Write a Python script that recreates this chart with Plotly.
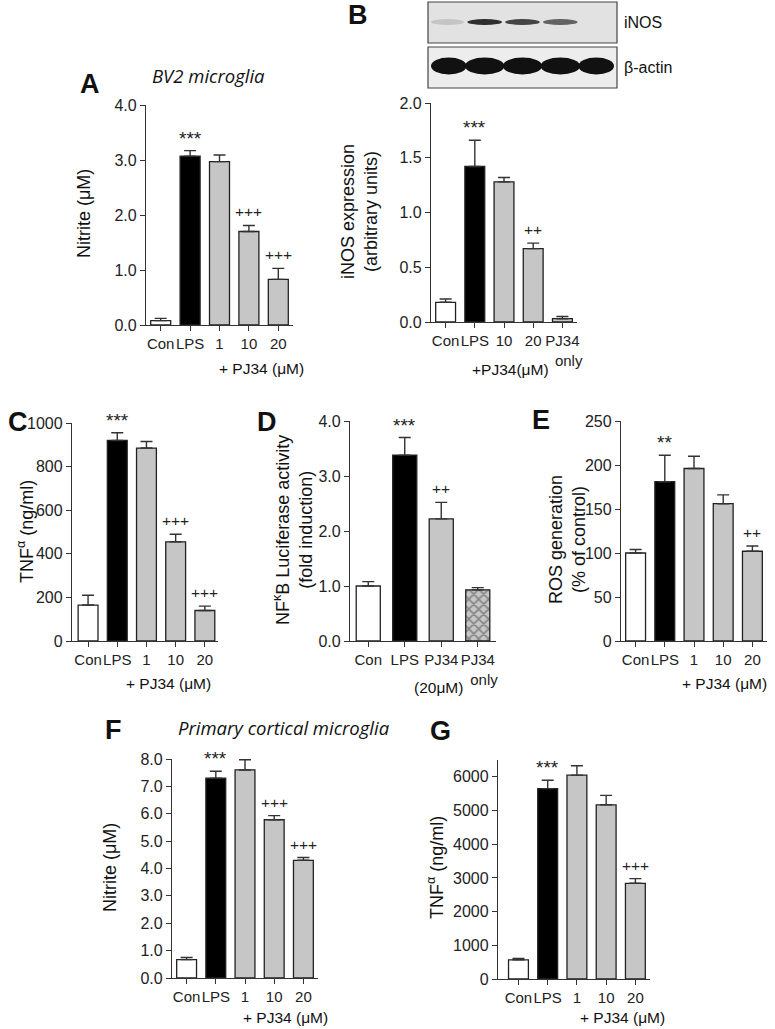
import plotly.graph_objects as go

W, H = 775, 1029
FONT = "Liberation Sans, Arial, sans-serif"

# ---------------- data ----------------
A_cats = ["Con", "LPS", "1", "10", "20"]
A_vals = [0.08, 3.07, 2.97, 1.70, 0.83]
A_errs = [0.04, 0.10, 0.12, 0.11, 0.20]
A_sig = ["", "***", "", "+++", "+++"]

B_cats = ["Con", "LPS", "10", "20", "PJ34<br>   only"]
B_vals = [0.18, 1.42, 1.28, 0.67, 0.03]
B_errs = [0.03, 0.24, 0.04, 0.05, 0.02]
B_sig = ["", "***", "", "++", ""]

C_cats = ["Con", "LPS", "1", "10", "20"]
C_vals = [165, 920, 885, 455, 140]
C_errs = [45, 35, 30, 35, 20]
C_sig = ["", "***", "", "+++", "+++"]

D_cats = ["Con", "LPS", "PJ34", "PJ34<br>   only"]
D_vals = [1.00, 3.38, 2.22, 0.93]
D_errs = [0.08, 0.32, 0.30, 0.04]
D_sig = ["", "***", "++", ""]

E_cats = ["Con", "LPS", "1", "10", "20"]
E_vals = [100, 181, 196, 156, 102]
E_errs = [4, 30, 14, 10, 6]
E_sig = ["", "**", "", "", "++"]

F_cats = ["Con", "LPS", "1", "10", "20"]
F_vals = [0.67, 7.30, 7.60, 5.78, 4.30]
F_errs = [0.08, 0.25, 0.37, 0.15, 0.10]
F_sig = ["", "***", "", "+++", "+++"]

G_cats = ["Con", "LPS", "1", "10", "20"]
G_vals = [570, 5650, 6050, 5170, 2840]
G_errs = [40, 250, 280, 280, 140]
G_sig = ["", "***", "", "", "+++"]

# western blot band intensities (0..1), five lanes
inos_band = [0.12, 0.85, 0.75, 0.6, 0.03]
actin_band = [1.0, 1.0, 1.0, 1.0, 1.0]


def px(x):
    return x / W


def py(y):
    return 1 - y / H


fig = go.Figure()

WHITE, BLACK, GRAY = "white", "black", "#c6c6c6"

panels = [
    ("A", A_cats, A_vals, A_errs, A_sig, [WHITE, BLACK, GRAY, GRAY, GRAY],
     (146, 293), (105, 325), [0, 4], 1, ".1f", [-0.5, 4.5], 0.68, 4),
    ("B", B_cats, B_vals, B_errs, B_sig, [WHITE, BLACK, GRAY, GRAY, GRAY],
     (431, 577), (103, 322), [0, 2], 0.5, ".1f", [-0.5, 4.5], 0.68, 2),
    ("C", C_cats, C_vals, C_errs, C_sig, [WHITE, BLACK, GRAY, GRAY, GRAY],
     (72, 218), (423, 641), [0, 1000], 200, "d", [-0.55, 4.45], 0.68, 1000),
    ("D", D_cats, D_vals, D_errs, D_sig, [WHITE, BLACK, GRAY, GRAY],
     (350, 496), (421, 641), [0, 4], 1, ".1f", [-0.5, 3.5], 0.66, 4),
    ("E", E_cats, E_vals, E_errs, E_sig, [WHITE, BLACK, GRAY, GRAY, GRAY],
     (621, 767), (421, 641), [0, 250], 50, "d", [-0.5, 4.5], 0.68, 250),
    ("F", F_cats, F_vals, F_errs, F_sig, [WHITE, BLACK, GRAY, GRAY, GRAY],
     (172, 318), (759, 978), [0, 8], 1, ".1f", [-0.5, 4.5], 0.68, 8),
    ("G", G_cats, G_vals, G_errs, G_sig, [WHITE, BLACK, GRAY, GRAY, GRAY],
     (498, 650), (760, 979), [0, 6500], 1000, "d", [-0.7, 4.5], 0.68, 6000),
]

annotations = []
layout_axes = {}
for i, (key, cats, vals, errs, sig, cols, xd, yd, yr, dt, fmt, xr, bw, tmax) in enumerate(panels, start=1):
    xa = "x" if i == 1 else f"x{i}"
    ya = "y" if i == 1 else f"y{i}"
    xs = list(range(len(cats)))
    pattern = None
    if key == "D":
        pattern = dict(shape=["", "", "", "x"], fgcolor="black", bgcolor="#a8a8a8",
                       size=7, solidity=0.4)
    fig.add_trace(go.Bar(
        x=xs, y=vals, width=bw, xaxis=xa, yaxis=ya,
        marker=dict(color=cols, line=dict(color="#222", width=1.3),
                    pattern=pattern),
        error_y=dict(type="data", symmetric=False, array=errs,
                     arrayminus=[0] * len(errs), color="#333",
                     thickness=1.4, width=6),
        showlegend=False, hoverinfo="skip",
    ))
    common = dict(showline=True, linecolor="#333", linewidth=1.3, ticks="outside",
                  ticklen=5, tickwidth=1.3, tickcolor="#333", showgrid=False,
                  zeroline=False, fixedrange=True, automargin=False)
    xkey = "xaxis" if i == 1 else f"xaxis{i}"
    ykey = "yaxis" if i == 1 else f"yaxis{i}"
    layout_axes[xkey] = dict(common, domain=[px(xd[0]), px(xd[1])], anchor=ya,
                             range=xr, tickmode="array", tickvals=xs, ticktext=cats,
                             tickangle=0,
                             tickfont=dict(family=FONT, size=15, color="#222"))
    tv = []
    v = yr[0]
    while v <= tmax + 1e-9:
        tv.append(round(v, 3))
        v += dt
    layout_axes[ykey] = dict(common, domain=[py(yd[1]), py(yd[0])], anchor=xa,
                             range=yr, tickmode="array", tickvals=tv,
                             tickformat=fmt,
                             tickfont=dict(family=FONT, size=16, color="#222"))
    for xi, (v, e, s) in enumerate(zip(vals, errs, sig)):
        if s:
            star = s.startswith("*")
            annotations.append(dict(
                x=xi, y=v + e, xref=xa, yref=ya, text=s, showarrow=False,
                yanchor="bottom", yshift=0 if star else 3,
                font=dict(family=FONT, size=19 if star else 15.5, color="#222")))

fig.update_layout(**layout_axes)


def txt(x, y, text, size=15, bold=False, italic=False, angle=0, family=FONT,
        xanchor="center", yanchor="middle"):
    t = text
    if bold:
        t = f"<b>{t}</b>"
    if italic:
        t = f"<i>{t}</i>"
    annotations.append(dict(x=px(x), y=py(y), xref="paper", yref="paper", text=t,
                            showarrow=False, textangle=angle, xanchor=xanchor,
                            yanchor=yanchor,
                            font=dict(family=family, size=size, color="#111")))


# panel letters
for L, (x, y) in {"A": (90, 84), "B": (358, 15), "C": (18, 422), "D": (267, 422),
                  "E": (541, 420), "F": (113, 730), "G": (440, 731)}.items():
    txt(x, y, L, size=27, bold=True)

# titles
txt(208, 75, "BV2 microglia", size=18.5, italic=True, family="Open Sans, sans-serif")
txt(284, 727, "Primary cortical microglia", size=18.5, italic=True, family="Open Sans, sans-serif")

# y axis titles
TS = 18
txt(84, 214, "Nitrite (μM)", size=TS, angle=-90)
txt(360, 212, "iNOS expression<br>(arbitrary units)", size=TS, angle=-90)
txt(25, 532, "TNF<sup>α</sup> (ng/ml)", size=TS, angle=-90)
txt(293, 530, "NF<sup>κ</sup>B Luciferase activity<br>(fold induction)", size=TS, angle=-90)
txt(567, 540, "ROS generation<br>(% of control)", size=TS, angle=-90)
txt(110, 868, "Nitrite (μM)", size=TS, angle=-90)
txt(435, 868, "TNF<sup>α</sup> (ng/ml)", size=TS, angle=-90)

# x sub labels
SS = 15.5
txt(261, 368, "+ PJ34 (μM)", size=SS)
txt(510, 369, "+PJ34(μM)", size=SS)
txt(168, 683, "+ PJ34 (μM)", size=SS)
txt(438, 687, "(20μM)", size=SS)
txt(724, 683, "+ PJ34 (μM)", size=SS)
txt(285, 1017, "+ PJ34 (μM)", size=SS)
txt(622, 1017, "+ PJ34 (μM)", size=SS)

# western blot boxes
shapes = []
bx0, bx1 = 428, 617
for (y0, y1, bands, bg, bh, yc, half, lab) in [
        (2, 43, inos_band, "#e2e2e2", 6, 22, 0.46, "iNOS"),
        (47, 88, actin_band, "#ededed", 17, 66, 0.52, "β-actin")]:
    shapes.append(dict(type="rect", xref="paper", yref="paper",
                       x0=px(bx0), x1=px(bx1), y0=py(y1), y1=py(y0),
                       fillcolor=bg, line=dict(color="#444", width=1.2), layer="below"))
    n = len(bands)
    lane_w = (bx1 - bx0) / n
    for k, b in enumerate(bands):
        if b <= 0.05:
            continue
        cx = bx0 + lane_w * (k + 0.5)
        g = int(222 - 205 * b)
        shapes.append(dict(type="circle", xref="paper", yref="paper",
                           x0=px(max(bx0 + 3, cx - lane_w * half)),
                           x1=px(min(bx1 - 3, cx + lane_w * half)),
                           y0=py(yc + bh / 2), y1=py(yc - bh / 2),
                           fillcolor=f"rgb({g},{g},{g})", line=dict(width=0)))
    txt(bx1 + 5, (y0 + y1) / 2, lab, size=16, xanchor="left")

fig.update_layout(
    width=W, height=H, margin=dict(l=0, r=0, t=0, b=0, autoexpand=False),
    paper_bgcolor="white", plot_bgcolor="white",
    annotations=annotations, shapes=shapes, bargap=0.3,
)

POST = ("var gd=document.getElementById('{plot_id}');"
        "gd.style.position='fixed';gd.style.left='0px';gd.style.top='0px';"
        "document.documentElement.style.margin='0';document.body.style.margin='0';"
        "document.body.style.padding='0';document.documentElement.style.overflow='hidden';"
        "document.body.style.overflow='hidden';")

fig.write_html("out.html", config={"displayModeBar": False}, post_script=POST)
